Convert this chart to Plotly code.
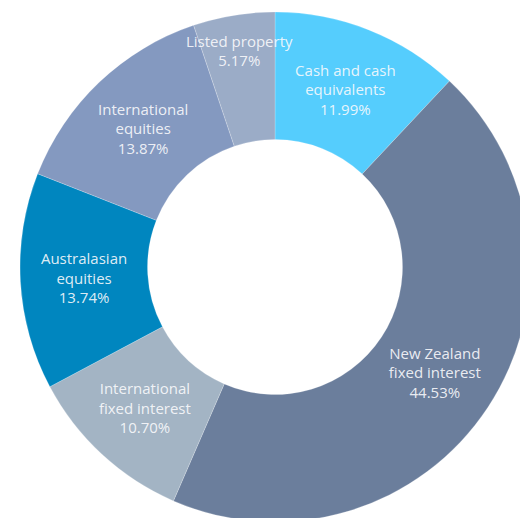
import plotly.graph_objects as go

categories = ["Cash and cash<br>equivalents", "New Zealand<br>fixed interest",
              "International<br>fixed interest", "Australasian<br>equities",
              "International<br>equities", "Listed property"]
values = [11.99, 44.53, 10.70, 13.74, 13.87, 5.17]
pct_labels = ["11.99%", "44.53%", "10.70%", "13.74%", "13.87%", "5.17%"]
colors = ["#55CDFD", "#6B7E9C", "#A3B4C4", "#0086BF", "#8499C0", "#9BACC7"]

W, H = 540, 530
cx, cy, R = 275, 267, 255

fig = go.Figure(go.Pie(
    labels=categories,
    values=values,
    text=pct_labels,
    texttemplate="%{label}<br>%{text}",
    textposition="inside",
    insidetextorientation="horizontal",
    sort=False,
    direction="clockwise",
    rotation=0,
    hole=0.5,
    marker=dict(colors=colors, line=dict(color="rgba(255,255,255,0.35)", width=0.6)),
    textfont=dict(family="Open Sans", size=15, color="rgba(250,250,252,0.9)"),
    hoverinfo="label+percent",
    showlegend=False,
    domain=dict(x=[(cx - R) / W, (cx + R) / W],
                y=[(H - cy - R) / H, (H - cy + R) / H]),
))

fig.update_layout(
    width=W, height=H,
    margin=dict(l=0, r=0, t=0, b=0),
    paper_bgcolor="white",
    uniformtext=dict(minsize=15, mode="show"),
)

fig.write_html("out.html", config={"displayModeBar": False}, post_script=(
    "document.body.style.margin='0';"
    "document.body.style.overflow='hidden';"
    "document.documentElement.style.overflow='hidden';"
))
